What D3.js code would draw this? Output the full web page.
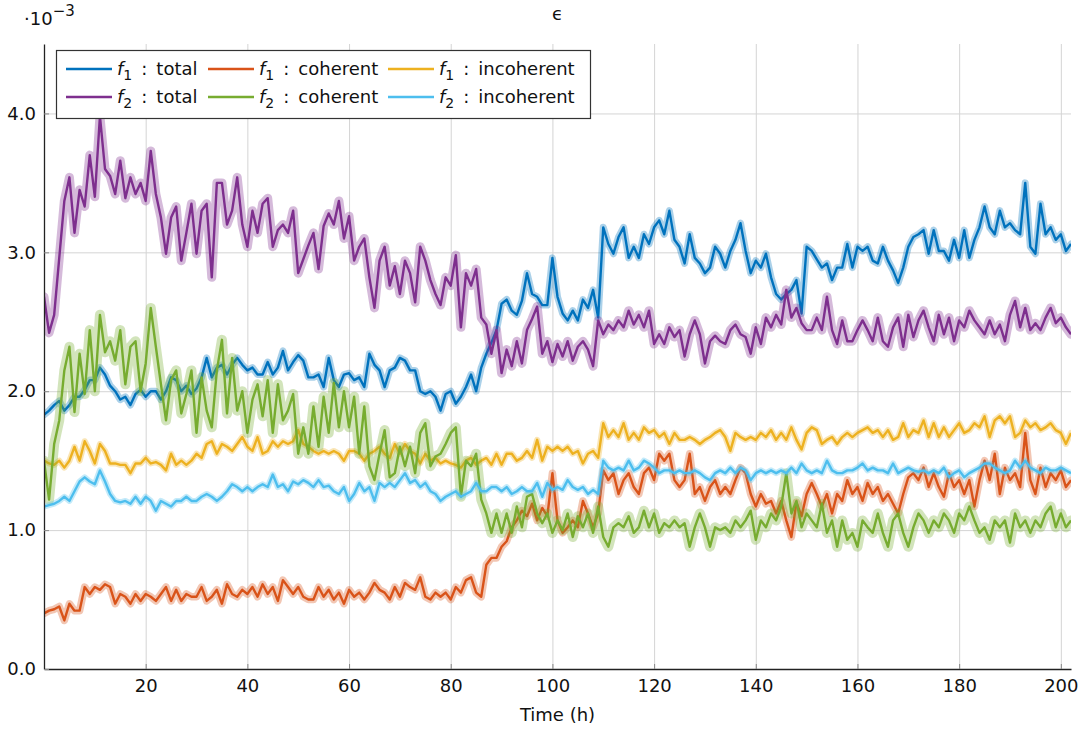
<!DOCTYPE html>
<html>
<head>
<meta charset="utf-8">
<script src="https://cdn.jsdelivr.net/npm/d3@7"></script>
<style>
body{margin:0;background:#fff;}
text{font-family:"DejaVu Sans",sans-serif;fill:#111;}
</style>
</head>
<body>
<div id="chart"></div>
<script>
// time axis (hours) and the six epsilon series, in units of 1e-3
var hours = d3.range(0,203);

var f1Total = [1.83,1.86,1.90,1.93,1.86,1.90,1.96,1.96,2.01,2.08,
  2.08,2.17,2.12,2.04,2.00,1.94,1.96,1.90,1.98,2.01,
  1.96,2.00,2.00,1.94,2.00,2.10,2.08,2.00,2.04,1.98,
  2.02,2.10,2.24,2.10,2.17,2.19,2.12,2.19,2.24,2.19,
  2.15,2.17,2.12,2.12,2.21,2.12,2.17,2.29,2.15,2.21,
  2.26,2.22,2.10,2.10,2.12,2.03,2.24,2.08,2.03,2.12,
  2.13,2.08,2.10,2.03,2.27,2.19,2.15,2.03,2.15,2.17,
  2.24,2.22,2.15,2.15,2.00,1.98,2.00,1.96,1.86,1.98,
  2.00,1.91,1.96,2.03,2.12,2.00,2.17,2.27,2.35,2.44,
  2.63,2.66,2.58,2.55,2.65,2.85,2.70,2.68,2.62,2.62,
  2.96,2.68,2.56,2.51,2.58,2.51,2.66,2.60,2.73,2.53,
  3.18,3.06,2.99,3.11,3.18,2.96,3.04,2.96,3.13,3.06,
  3.18,3.23,3.13,3.30,3.09,3.04,2.92,3.13,2.96,2.92,
  2.85,2.89,3.04,2.99,2.89,3.01,3.09,3.21,3.01,2.85,
  2.94,2.89,2.99,2.82,2.70,2.66,2.70,2.73,2.80,2.56,
  3.04,3.01,2.95,2.89,2.92,2.80,2.89,2.89,3.06,2.89,
  3.04,3.01,3.04,2.94,2.92,3.04,2.94,2.87,2.78,2.89,
  3.04,3.11,3.13,3.16,2.99,3.16,3.01,3.01,2.94,3.09,
  2.96,3.16,2.96,3.09,3.18,3.33,3.18,3.13,3.30,3.18,
  3.21,3.16,3.13,3.50,3.04,2.99,3.35,3.13,3.18,3.09,
  3.13,3.01,3.06];

var f1Coherent = [0.40,0.42,0.43,0.45,0.35,0.47,0.42,0.42,0.59,0.54,
  0.59,0.57,0.61,0.59,0.47,0.54,0.52,0.47,0.54,0.49,
  0.54,0.52,0.49,0.54,0.59,0.49,0.57,0.49,0.54,0.52,
  0.52,0.59,0.49,0.52,0.57,0.47,0.61,0.54,0.52,0.57,
  0.54,0.59,0.52,0.61,0.54,0.59,0.49,0.64,0.59,0.54,
  0.59,0.52,0.50,0.50,0.59,0.52,0.57,0.50,0.55,0.47,
  0.57,0.52,0.55,0.50,0.55,0.62,0.57,0.55,0.50,0.59,
  0.52,0.62,0.59,0.57,0.66,0.52,0.50,0.55,0.52,0.55,
  0.50,0.59,0.55,0.64,0.66,0.55,0.52,0.75,0.80,0.80,
  0.88,0.92,1.02,1.07,1.14,1.10,1.19,1.07,1.16,1.10,
  1.41,1.07,0.98,1.02,1.07,1.02,1.21,1.12,1.02,1.12,
  1.43,1.36,1.41,1.26,1.36,1.41,1.31,1.26,1.41,1.45,
  1.36,1.55,1.50,1.55,1.36,1.31,1.36,1.55,1.26,1.31,
  1.21,1.31,1.36,1.26,1.31,1.26,1.36,1.45,1.41,1.26,
  1.17,1.26,1.19,1.21,1.12,1.21,1.07,0.95,1.20,1.10,
  1.26,1.34,1.26,1.17,1.26,1.12,1.26,1.21,1.36,1.26,
  1.31,1.21,1.34,1.26,1.31,1.21,1.26,1.19,1.12,1.26,
  1.38,1.41,1.36,1.45,1.31,1.41,1.31,1.24,1.41,1.31,
  1.36,1.26,1.36,1.17,1.36,1.50,1.36,1.55,1.26,1.45,
  1.36,1.41,1.31,1.70,1.36,1.26,1.45,1.31,1.41,1.36,
  1.43,1.31,1.36];

var f1Incoherent = [1.50,1.48,1.47,1.50,1.45,1.50,1.60,1.50,1.64,1.57,
  1.48,1.62,1.57,1.48,1.48,1.47,1.47,1.41,1.48,1.48,
  1.52,1.48,1.49,1.47,1.43,1.55,1.47,1.50,1.47,1.50,
  1.55,1.52,1.62,1.64,1.55,1.62,1.60,1.57,1.62,1.67,
  1.60,1.57,1.67,1.55,1.57,1.64,1.60,1.64,1.62,1.64,
  1.72,1.62,1.60,1.57,1.55,1.57,1.55,1.57,1.55,1.50,
  1.57,1.57,1.55,1.50,1.55,1.57,1.60,1.55,1.52,1.62,
  1.55,1.62,1.57,1.55,1.48,1.55,1.50,1.52,1.48,1.50,
  1.48,1.47,1.45,1.50,1.52,1.47,1.50,1.52,1.47,1.55,
  1.47,1.55,1.55,1.50,1.52,1.57,1.52,1.65,1.50,1.60,
  1.57,1.60,1.57,1.60,1.55,1.57,1.48,1.55,1.57,1.52,
  1.77,1.67,1.72,1.67,1.77,1.65,1.70,1.65,1.74,1.70,
  1.72,1.67,1.70,1.62,1.70,1.65,1.65,1.67,1.65,1.62,
  1.65,1.67,1.70,1.72,1.67,1.57,1.70,1.67,1.65,1.67,
  1.65,1.70,1.67,1.72,1.65,1.70,1.65,1.74,1.65,1.58,
  1.70,1.74,1.72,1.62,1.65,1.67,1.62,1.67,1.70,1.67,
  1.70,1.72,1.74,1.70,1.72,1.67,1.72,1.65,1.67,1.77,
  1.67,1.72,1.70,1.79,1.67,1.77,1.67,1.74,1.67,1.72,
  1.77,1.70,1.72,1.77,1.74,1.82,1.67,1.79,1.82,1.77,
  1.82,1.67,1.70,1.79,1.74,1.77,1.72,1.74,1.77,1.72,
  1.70,1.62,1.70];

var f2Total = [2.68,2.42,2.55,2.96,3.37,3.54,3.14,3.45,3.33,3.70,
  3.40,3.98,3.60,3.55,3.42,3.66,3.39,3.54,3.42,3.50,
  3.37,3.73,3.42,3.25,2.99,3.25,3.33,2.94,3.14,3.35,
  2.99,3.30,3.35,2.82,3.50,3.50,3.20,3.30,3.54,3.20,
  3.04,3.30,3.14,3.35,3.39,3.04,3.16,3.20,3.14,3.30,
  2.85,2.95,3.05,3.14,2.88,3.19,3.28,3.20,3.37,3.10,
  3.26,2.94,3.04,3.10,2.82,2.60,2.94,3.04,2.76,2.90,
  2.70,2.94,2.85,2.64,3.04,2.94,2.80,2.70,2.62,2.82,
  2.76,2.98,2.46,2.85,2.76,2.88,2.53,2.48,2.27,2.44,
  2.13,2.30,2.18,2.36,2.20,2.44,2.52,2.61,2.27,2.36,
  2.21,2.34,2.25,2.36,2.22,2.32,2.36,2.30,2.18,2.51,
  2.41,2.48,2.44,2.51,2.46,2.58,2.48,2.55,2.46,2.58,
  2.34,2.41,2.34,2.46,2.39,2.44,2.25,2.41,2.51,2.41,
  2.20,2.36,2.40,2.36,2.34,2.44,2.48,2.41,2.39,2.27,
  2.46,2.34,2.53,2.46,2.55,2.48,2.73,2.53,2.60,2.49,
  2.44,2.44,2.53,2.44,2.68,2.44,2.34,2.51,2.36,2.36,
  2.44,2.51,2.44,2.36,2.53,2.36,2.32,2.46,2.53,2.32,
  2.55,2.39,2.51,2.58,2.46,2.36,2.55,2.41,2.53,2.36,
  2.51,2.46,2.58,2.51,2.46,2.41,2.51,2.41,2.48,2.36,
  2.55,2.65,2.46,2.60,2.44,2.49,2.44,2.53,2.60,2.49,
  2.53,2.46,2.41];

var f2Coherent = [1.50,1.22,1.62,1.79,2.15,2.32,1.85,2.27,1.98,2.44,
  2.00,2.55,2.28,2.36,2.22,2.44,2.05,2.32,2.36,2.00,
  2.20,2.60,2.32,2.05,1.79,2.08,2.15,1.84,1.98,2.15,
  1.70,2.10,1.86,1.74,2.15,2.37,1.84,2.24,1.86,2.00,
  1.70,1.94,2.05,1.82,2.08,1.70,2.05,1.79,1.86,1.98,
  1.55,1.74,1.55,1.89,1.60,1.96,1.70,2.06,1.74,2.00,
  1.74,1.96,1.55,1.89,1.46,1.36,1.55,1.72,1.38,1.41,
  1.60,1.46,1.60,1.41,1.70,1.77,1.46,1.53,1.55,1.62,
  1.70,1.74,1.24,1.50,1.46,1.55,1.22,1.12,0.98,1.12,
  0.98,1.12,0.98,1.17,1.02,1.24,1.26,1.12,1.05,1.12,
  0.98,1.07,1.00,1.12,0.95,1.10,1.02,1.12,0.98,1.17,
  0.95,0.88,1.02,1.05,1.02,1.10,0.98,1.02,1.14,1.02,
  1.12,0.98,1.05,1.02,1.07,1.02,1.05,0.88,1.02,1.12,
  1.02,0.88,1.02,1.00,1.02,0.98,1.07,1.02,1.07,1.14,
  0.93,1.07,1.02,1.12,1.07,1.17,1.41,1.12,1.21,1.02,
  1.12,1.07,1.02,1.19,0.98,1.07,0.88,1.07,0.93,0.98,
  0.88,1.07,1.02,0.98,1.12,0.98,0.88,1.07,1.12,0.98,
  0.88,1.02,1.12,1.07,0.98,1.07,1.02,1.12,1.07,0.98,
  1.12,1.07,1.17,1.07,0.98,1.02,0.93,1.07,1.02,1.07,
  0.91,1.12,1.02,1.07,0.98,1.07,1.02,1.12,1.17,1.02,
  1.12,1.02,1.07];

var f2Incoherent = [1.17,1.18,1.19,1.21,1.24,1.21,1.28,1.35,1.38,1.35,
  1.33,1.43,1.35,1.26,1.21,1.20,1.21,1.19,1.24,1.19,
  1.24,1.21,1.14,1.21,1.19,1.17,1.21,1.21,1.24,1.21,
  1.21,1.24,1.26,1.24,1.21,1.24,1.28,1.33,1.31,1.28,
  1.31,1.28,1.31,1.33,1.31,1.40,1.31,1.33,1.28,1.35,
  1.33,1.36,1.34,1.31,1.36,1.31,1.32,1.28,1.26,1.31,
  1.21,1.26,1.34,1.28,1.31,1.21,1.34,1.31,1.34,1.31,
  1.36,1.41,1.34,1.36,1.31,1.34,1.28,1.26,1.21,1.24,
  1.26,1.28,1.24,1.26,1.28,1.34,1.28,1.28,1.31,1.31,
  1.28,1.31,1.26,1.28,1.31,1.28,1.28,1.34,1.24,1.34,
  1.29,1.31,1.29,1.36,1.31,1.29,1.31,1.26,1.29,1.26,
  1.50,1.45,1.43,1.45,1.43,1.50,1.43,1.45,1.50,1.48,
  1.45,1.41,1.43,1.43,1.41,1.43,1.41,1.41,1.43,1.41,
  1.38,1.36,1.41,1.43,1.41,1.45,1.41,1.45,1.43,1.36,
  1.41,1.43,1.41,1.43,1.41,1.43,1.41,1.45,1.41,1.48,
  1.43,1.41,1.43,1.41,1.50,1.43,1.41,1.41,1.43,1.43,
  1.45,1.48,1.43,1.45,1.43,1.43,1.41,1.48,1.41,1.43,
  1.45,1.43,1.42,1.43,1.41,1.43,1.41,1.45,1.38,1.41,
  1.43,1.38,1.41,1.43,1.45,1.48,1.48,1.45,1.43,1.41,
  1.43,1.50,1.45,1.50,1.45,1.43,1.41,1.45,1.43,1.43,
  1.45,1.43,1.41];

var xTicks = [20,40,60,80,100,120,140,160,180,200];
var yTicks = [0,1,2,3,4];

var series = [
  {fn:"1", part:"total", values:f1Total, color:"#0072bd", halo:7},
  {fn:"1", part:"coherent", values:f1Coherent, color:"#d95319", halo:7.5},
  {fn:"1", part:"incoherent", values:f1Incoherent, color:"#edb120", halo:6},
  {fn:"2", part:"total", values:f2Total, color:"#7e2f8e", halo:9},
  {fn:"2", part:"coherent", values:f2Coherent, color:"#77ac30", halo:10},
  {fn:"2", part:"incoherent", values:f2Incoherent, color:"#4dbeee", halo:6}
];

var width=1086;
var height=734;
var plotL=44, plotR=1071, plotT=44, plotB=669;

var svg = d3.select("#chart")
    .append("svg")
    .attr("width",width)
    .attr("height",height);

var xScale = d3.scaleLinear()
    .domain([0,202])
    .range([plotL,plotR]);

var yScale = d3.scaleLinear()
    .domain([0,4.5])
    .range([plotB,plotT]);

// grid
svg.append("g")
    .attr("class","grid")
    .attr("transform","translate(0,"+plotB+")")
    .call(d3.axisBottom(xScale).tickValues(xTicks).tickSize(-(plotB-plotT)).tickFormat(""))
    .call(function(g){g.select(".domain").remove();})
    .selectAll("line").attr("stroke","#d4d4d4");

svg.append("g")
    .attr("class","grid")
    .attr("transform","translate("+plotL+",0)")
    .call(d3.axisLeft(yScale).tickValues(yTicks).tickSize(-(plotR-plotL)).tickFormat(""))
    .call(function(g){g.select(".domain").remove();})
    .selectAll("line").attr("stroke","#d4d4d4");

svg.append("clipPath")
    .attr("id","plotclip")
    .append("rect")
    .attr("x",plotL)
    .attr("y",plotT)
    .attr("width",plotR-plotL)
    .attr("height",plotB-plotT);

var plot = svg.append("g").attr("clip-path","url(#plotclip)");

var line = d3.line()
    .x(function(d){return xScale(d[0]);})
    .y(function(d){return yScale(d[1]);});

series.forEach(function(s){
  var pts = hours.map(function(h,i){return [h,s.values[i]];});
  // light spread band behind the mean line
  plot.append("path")
      .attr("d",line(pts))
      .attr("fill","none")
      .attr("stroke",s.color)
      .attr("stroke-opacity",0.33)
      .attr("stroke-width",s.halo)
      .attr("stroke-linejoin","round")
      .attr("stroke-linecap","round");
  plot.append("path")
      .attr("d",line(pts))
      .attr("fill","none")
      .attr("stroke",s.color)
      .attr("stroke-width",2.4)
      .attr("stroke-linejoin","round");
});

// axes
var xAxis = d3.axisBottom(xScale)
    .tickValues(xTicks)
    .tickSizeInner(-5)
    .tickSizeOuter(0)
    .tickPadding(10);

var yAxis = d3.axisLeft(yScale)
    .tickValues(yTicks)
    .tickSizeInner(-5)
    .tickSizeOuter(0)
    .tickPadding(8)
    .tickFormat(d3.format(".1f"));

var gx = svg.append("g")
    .attr("class","axis")
    .attr("transform","translate(0,"+plotB+")")
    .call(xAxis);
var gy = svg.append("g")
    .attr("class","axis")
    .attr("transform","translate("+plotL+",0)")
    .call(yAxis);

[gx,gy].forEach(function(g){
  g.select(".domain").attr("stroke","#222").attr("stroke-width",1.3);
  g.selectAll(".tick line").attr("stroke","#888");
  g.selectAll(".tick text")
      .attr("font-size",18)
      .attr("font-family","DejaVu Sans, sans-serif")
      .attr("fill","#111");
});

svg.append("text")
    .attr("x",(plotL+plotR)/2)
    .attr("y",721)
    .attr("text-anchor","middle")
    .attr("font-size",18)
    .text("Time (h)");

svg.append("text")
    .attr("x",(plotL+plotR)/2)
    .attr("y",20)
    .attr("text-anchor","middle")
    .attr("font-size",18)
    .text("\u03f5");

var scaleLabel = svg.append("text")
    .attr("x",24)
    .attr("y",25)
    .attr("font-size",18);
scaleLabel.append("tspan").text("\u00b710");
scaleLabel.append("tspan").attr("dy",-9).attr("font-size",15).text("\u22123");

// legend
var legend = svg.append("g");
legend.append("rect")
    .attr("x",56.5)
    .attr("y",50.5)
    .attr("width",534)
    .attr("height",68)
    .attr("fill","#fff")
    .attr("stroke","#333")
    .attr("stroke-width",1.2);

var colX = [66,208,388];
series.forEach(function(s,i){
  var cx = colX[i%3];
  var cy = i<3 ? 69 : 97;
  legend.append("line")
      .attr("x1",cx)
      .attr("x2",cx+46)
      .attr("y1",cy)
      .attr("y2",cy)
      .attr("stroke",s.color)
      .attr("stroke-width",2.4);
  var t = legend.append("text")
      .attr("x",cx+51)
      .attr("y",cy+6)
      .attr("font-size",18);
  t.append("tspan").attr("font-style","italic").text("f");
  t.append("tspan").attr("dy",5).attr("font-size",14).text(s.fn);
  t.append("tspan").attr("dy",-5).text("\u2002:\u2002"+s.part);
});
</script>
</body>
</html>
